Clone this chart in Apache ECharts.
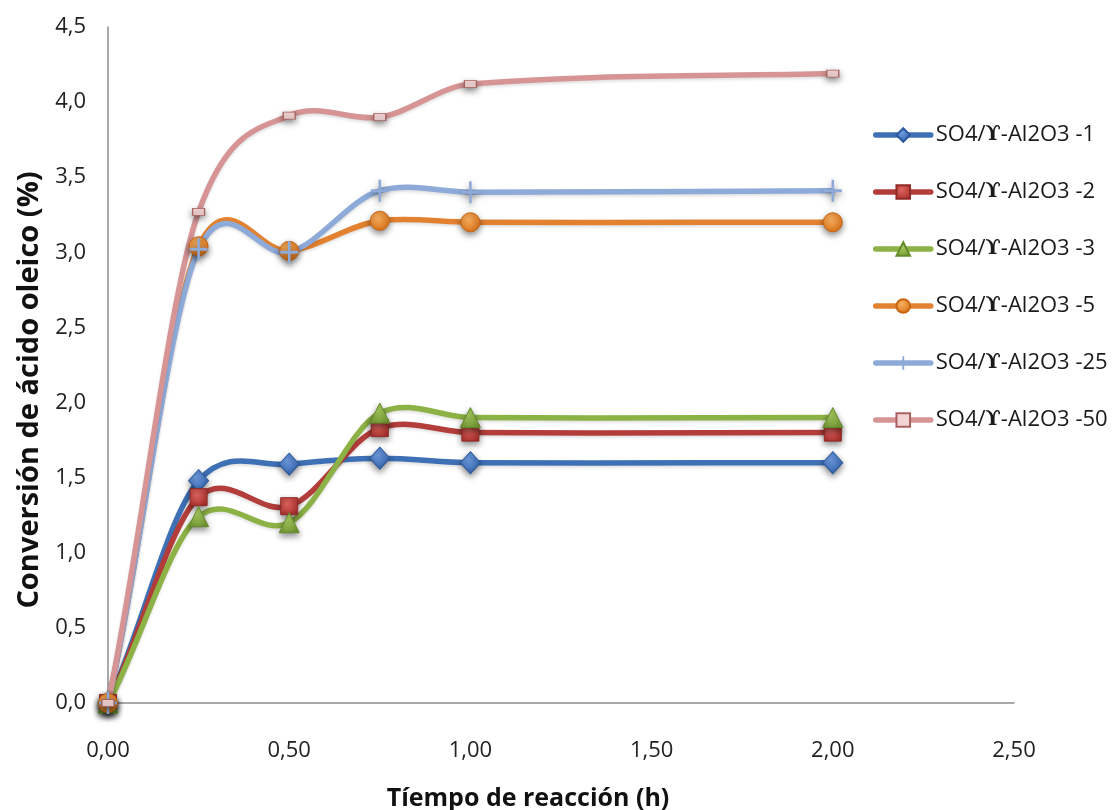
<!DOCTYPE html>
<html>
<head>
<meta charset="utf-8">
<script src="https://cdn.jsdelivr.net/npm/echarts@6/dist/echarts.min.js"></script>
<style>
  html, body { margin: 0; padding: 0; background: #ffffff; overflow: hidden; }
  #chart { width: 1115px; height: 810px; }
</style>
</head>
<body>
<div id="chart"></div>
<script>
// Reaction time (h)
const times = [0, 0.25, 0.5, 0.75, 1.0, 2.0];

// Oleic acid conversion (%) for each catalyst loading
const catalystNames = [
  'SO4/ϒ-Al2O3 -1',
  'SO4/ϒ-Al2O3 -2',
  'SO4/ϒ-Al2O3 -3',
  'SO4/ϒ-Al2O3 -5',
  'SO4/ϒ-Al2O3 -25',
  'SO4/ϒ-Al2O3 -50'
];
const conv1  = [0, 1.48, 1.59, 1.63, 1.60, 1.60];
const conv2  = [0, 1.37, 1.31, 1.83, 1.80, 1.80];
const conv3  = [0, 1.24, 1.20, 1.93, 1.90, 1.90];
const conv5  = [0, 3.04, 3.01, 3.21, 3.20, 3.20];
const conv25 = [0, 3.02, 3.00, 3.41, 3.40, 3.41];
const conv50 = [0, 3.27, 3.91, 3.90, 4.12, 4.19];

const xTicks = { min: 0, max: 2.5, step: 0.5 };
const yTicks = { min: 0, max: 4.5, step: 0.5 };

const dataSets = [conv1, conv2, conv3, conv5, conv25, conv50];
const pairs = arr => times.map((t, i) => [t, arr[i]]);

const plusPath = 'path://M0,4.3 L10,4.3 L10,5.7 L0,5.7 Z M4.3,0 L5.7,0 L5.7,10 L4.3,10 Z';

function shade(light, dark) {
  return {
    type: 'radial', x: 0.4, y: 0.35, r: 0.75,
    colorStops: [{ offset: 0, color: light }, { offset: 1, color: dark }]
  };
}

const styles = [
  { line: '#3e70b5', sym: 'diamond', size: [20, 22], fill: shade('#6f9ce0', '#2c5ea8'), border: '#2c5a9c' },
  { line: '#b23d3a', sym: 'rect', size: [17, 17], fill: shade('#e06560', '#a52c29'), border: '#8f2a27' },
  { line: '#8cb144', sym: 'triangle', size: [20, 20], fill: shade('#a9cc60', '#6f9530'), border: '#658a2c' },
  { line: '#e2812f', sym: 'circle', size: [19, 19], fill: shade('#f7b060', '#d86c10'), border: '#c86512' },
  { line: '#8eaad8', sym: plusPath, size: [18, 22], fill: '#8eaad8', border: '#8eaad8' },
  { line: '#d69495', sym: 'rect', size: [12, 7], fill: '#f3d4d4', border: '#a8615f' }
];

// Smooth curve through the points (x-monotone Hermite segments written as cubic Béziers)
const TENSION = 0.85;
function smoothPath(pts) {
  const n = pts.length;
  const slope = i => {
    const a = pts[Math.max(i - 1, 0)];
    const b = pts[Math.min(i + 1, n - 1)];
    return TENSION * (b[1] - a[1]) / (b[0] - a[0]);
  };
  let d = 'M' + pts[0][0] + ',' + pts[0][1];
  for (let i = 0; i < n - 1; i++) {
    const p = pts[i], q = pts[i + 1];
    const h = (q[0] - p[0]) / 3;
    const m0 = slope(i), m1 = slope(i + 1);
    d += ' C' + (p[0] + h) + ',' + (p[1] + m0 * h) + ' ' +
         (q[0] - h) + ',' + (q[1] - m1 * h) + ' ' + q[0] + ',' + q[1];
  }
  return d;
}

const curveSeries = dataSets.map((arr, k) => ({
  name: catalystNames[k],
  type: 'custom',
  data: pairs(arr),
  z: 2,
  silent: true,
  renderItem: function (params, api) {
    if (params.dataIndex !== 0) return null;
    const pts = arr.map((v, i) => api.coord([times[i], v]));
    return {
      type: 'path',
      shape: { pathData: smoothPath(pts) },
      style: {
        fill: 'none',
        stroke: styles[k].line,
        lineWidth: 5.5,
        lineCap: 'round',
        lineJoin: 'round',
        shadowColor: 'rgba(0,0,0,0.12)',
        shadowBlur: 3,
        shadowOffsetY: 2
      }
    };
  }
}));

const markerSeries = dataSets.map((arr, k) => ({
  name: catalystNames[k],
  type: 'line',
  data: pairs(arr),
  symbol: styles[k].sym,
  symbolSize: styles[k].size,
  showSymbol: true,
  lineStyle: { color: styles[k].line, width: 5.5, opacity: 0 },
  itemStyle: {
    color: styles[k].fill,
    borderColor: styles[k].border,
    borderWidth: k === 4 ? 0 : 1,
    shadowColor: 'rgba(0,0,0,0.45)', shadowBlur: 6, shadowOffsetY: 3
  },
  emphasis: { disabled: true },
  z: 3
}));

const chart = echarts.init(document.getElementById('chart'), null, { renderer: 'canvas' });

chart.setOption({
  animation: false,
  backgroundColor: '#ffffff',
  grid: {
    left: 108, top: 27, width: 906, height: 676,
    containLabel: false,
    outerBoundsMode: 'none'
  },
  legend: {
    orient: 'vertical',
    left: 868,
    top: 119,
    itemWidth: 55,
    itemHeight: 17,
    itemGap: 35,
    data: catalystNames.map((n, k) => ({
      name: n,
      itemStyle: { color: styles[k].fill, borderColor: styles[k].border, opacity: 1 },
      lineStyle: { color: styles[k].line, width: 5.5, opacity: 1, cap: 'round' }
    })),
    formatter: n => {
      const parts = n.split('ϒ');
      return '{t|' + parts[0] + '}{g|ϒ}{t|' + parts[1] + '}';
    },
    textStyle: {
      rich: {
        t: { fontFamily: '"Open Sans", "DejaVu Sans", sans-serif', fontSize: 22, color: '#1a1a1a' },
        g: { fontFamily: '"DejaVu Serif", serif', fontWeight: 'bold', fontSize: 20, color: '#1a1a1a' }
      }
    }
  },
  xAxis: {
    type: 'value',
    min: xTicks.min, max: xTicks.max, interval: xTicks.step,
    name: 'Tíempo de reacción (h)',
    nameLocation: 'middle',
    nameGap: 83,
    nameTextStyle: {
      fontFamily: '"Open Sans", sans-serif',
      fontWeight: 'bold', fontSize: 25, color: '#111',
      padding: [0, 66, 0, 0]
    },
    axisLine: { show: true, lineStyle: { color: '#8c8c8c', width: 1.5 } },
    axisTick: { show: false },
    splitLine: { show: false },
    axisLabel: {
      margin: 37,
      fontFamily: '"Open Sans", sans-serif',
      fontSize: 22, color: '#222',
      formatter: v => v.toFixed(2).replace('.', ',')
    }
  },
  yAxis: {
    type: 'value',
    min: yTicks.min, max: yTicks.max, interval: yTicks.step,
    name: 'Conversión de ácido oleico (%)',
    nameLocation: 'middle',
    nameGap: 63,
    nameRotate: 90,
    nameTextStyle: {
      fontFamily: '"Open Sans", "DejaVu Sans", sans-serif',
      fontWeight: 'bold', fontSize: 29, color: '#111',
      padding: [0, 50, 0, 0]
    },
    axisLine: { show: true, lineStyle: { color: '#8c8c8c', width: 1.5 } },
    axisTick: { show: false },
    splitLine: { show: false },
    axisLabel: {
      margin: 22,
      fontFamily: '"Open Sans", sans-serif',
      fontSize: 22, color: '#222',
      formatter: v => v.toFixed(1).replace('.', ',')
    }
  },
  series: markerSeries.concat(curveSeries)
});
</script>
</body>
</html>
